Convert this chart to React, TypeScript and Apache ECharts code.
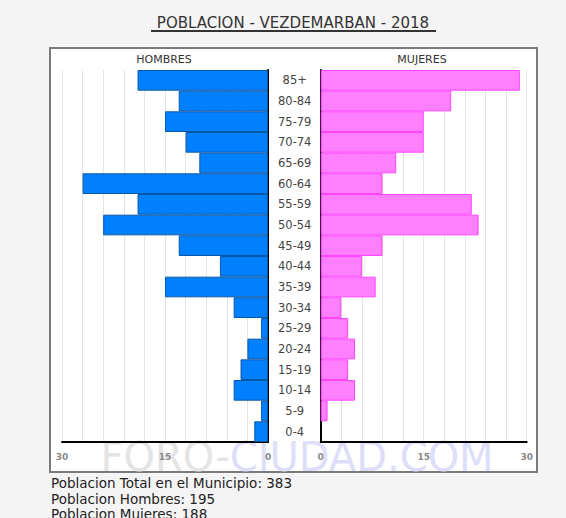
import React, { useEffect, useRef } from "react";
import * as echarts from "echarts";

const categories = ["0-4", "5-9", "10-14", "15-19", "20-24", "25-29", "30-34", "35-39", "40-44", "45-49", "50-54", "55-59", "60-64", "65-69", "70-74", "75-79", "80-84", "85+"];
const hombres = [2, 1, 5, 4, 3, 1, 5, 15, 7, 13, 24, 19, 27, 10, 12, 15, 13, 19];
const mujeres = [0, 1, 5, 4, 5, 4, 3, 8, 6, 9, 23, 22, 9, 11, 15, 15, 19, 29];
const axisTicks = [0, 15, 30];
const titleText = "POBLACION - VEZDEMARBAN - 2018";
const footerLines = ["Poblacion Total en el Municipio: 383", "Poblacion Hombres: 195", "Poblacion Mujeres: 188"];

const FONT = "DejaVu Sans, Verdana, sans-serif";

const toBarData = (arr: number[]) =>
  arr.map((v) => (v === 0 ? { value: v, itemStyle: { borderWidth: 0 } } : v));

export default function App() {
  const ref = useRef<HTMLDivElement>(null);
  useEffect(() => {
    if (!ref.current) return;
    const chart = echarts.init(ref.current, null, { renderer: "svg" });
    const xLabel = {
      fontSize: 9,
      fontWeight: "bold" as const,
      color: "#8a8a8a",
      fontFamily: FONT,
      margin: 10,
      formatter: (v: number) => (axisTicks.includes(v) ? String(v) : ""),
    };
    const splitLine = { show: true, lineStyle: { color: "#e4e4e4", width: 1 } };
    chart.setOption({
      animation: false,
      backgroundColor: "#f4f4f4",
      textStyle: { fontFamily: FONT },
      graphic: [
        { type: "rect", z: -10, shape: { x: 50, y: 48, width: 487, height: 424 }, style: { fill: "#ffffff", stroke: "#7a7a7a", lineWidth: 2 } },
        { type: "text", z: 0, x: 293, y: 23, style: { text: titleText, fontSize: 15, fontFamily: FONT, fill: "#333", align: "center", verticalAlign: "middle" } },
        { type: "line", z: 0, shape: { x1: 151, y1: 31, x2: 436, y2: 31 }, style: { stroke: "#333", lineWidth: 2 } },
        { type: "text", z: 0, x: 164, y: 59, style: { text: "HOMBRES", fontSize: 11, fontFamily: FONT, fill: "#333", align: "center", verticalAlign: "middle" } },
        { type: "text", z: 0, x: 422, y: 59, style: { text: "MUJERES", fontSize: 11, fontFamily: FONT, fill: "#333", align: "center", verticalAlign: "middle" } },
        {
          type: "text", z: -5, x: 297, y: 457,
          style: {
            text: "{a|FORO-}{b|CIUDAD.COM}", align: "center", verticalAlign: "middle",
            rich: {
              a: { fontSize: 40, fontFamily: FONT, fill: "#e4e4e4", color: "#e4e4e4" },
              b: { fontSize: 40, fontFamily: FONT, fill: "#dedefa", color: "#dedefa" },
            },
          },
        },
        ...footerLines.map((t, i) => ({
          type: "text", z: 0, x: 51, y: 483 + i * 15.5,
          style: { text: t, fontSize: 13.5, fontFamily: FONT, fill: "#222", align: "left", verticalAlign: "middle" },
        })),
      ],
      grid: [
        { left: 62, top: 70, width: 206, height: 372 },
        { left: 320.7, top: 70, width: 206, height: 372 },
      ],
      xAxis: [
        {
          type: "value", gridIndex: 0, min: 0, max: 30, interval: 3, inverse: true,
          axisLine: { show: true, lineStyle: { color: "#000", width: 2 } },
          axisTick: { show: false }, axisLabel: xLabel, splitLine,
        },
        {
          type: "value", gridIndex: 1, min: 0, max: 30, interval: 3,
          axisLine: { show: true, lineStyle: { color: "#000", width: 2 } },
          axisTick: { show: false }, axisLabel: xLabel, splitLine,
        },
      ],
      yAxis: [
        {
          type: "category", gridIndex: 0, data: categories, position: "right",
          axisLine: { show: true, onZero: false, lineStyle: { color: "#000", width: 2 } },
          axisTick: { show: false }, axisLabel: { show: false }, splitLine: { show: false },
        },
        {
          type: "category", gridIndex: 1, data: categories, position: "left",
          axisLine: { show: true, onZero: false, lineStyle: { color: "#000", width: 2 } },
          axisTick: { show: false },
          axisLabel: { show: true, align: "center", margin: 26, fontSize: 11.5, color: "#444", fontFamily: FONT, interval: 0 },
          splitLine: { show: false },
        },
      ],
      series: [
        {
          type: "bar", xAxisIndex: 0, yAxisIndex: 0, data: toBarData(hombres), barCategoryGap: "0%", z: 3,
          itemStyle: { color: "#0080ff", borderColor: "#0a57a8", borderWidth: 1 },
        },
        {
          type: "bar", xAxisIndex: 1, yAxisIndex: 1, data: toBarData(mujeres), barCategoryGap: "0%", z: 3,
          itemStyle: { color: "#ff80ff", borderColor: "#ff44ff", borderWidth: 1 },
        },
      ],
    });
    return () => chart.dispose();
  }, []);
  return <div ref={ref} style={{ width: 566, height: 518, position: "absolute", left: 0, top: 0 }} />;
}
